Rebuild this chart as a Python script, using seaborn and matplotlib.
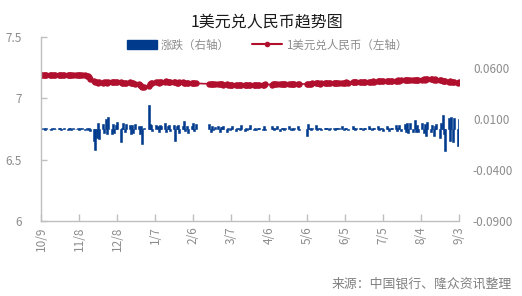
import numpy as np
import pandas as pd
import matplotlib
matplotlib.use("Agg")
import matplotlib.pyplot as plt
import seaborn as sns
from matplotlib.patches import Patch
from matplotlib.lines import Line2D

sns.set_theme(style="white")
plt.rcParams['font.family'] = ['Noto Sans CJK SC', 'DejaVu Sans']

# ---------------- data ----------------
start_date = "2023-10-09"
end_date = "2024-09-03"
holidays = ["2024-01-01", "2024-02-09", "2024-02-12", "2024-02-13", "2024-02-14",
            "2024-02-15", "2024-02-16", "2024-04-04", "2024-04-05", "2024-05-01",
            "2024-05-02", "2024-05-03", "2024-06-10"]

tick_labels = ["10/9", "11/8", "12/8", "1/7", "2/6", "3/7", "4/6", "5/6", "6/5", "7/5", "8/4", "9/3"]

rate_oct = [7.190, 7.191, 7.190, 7.189, 7.190, 7.191, 7.192, 7.191, 7.190, 7.191,
            7.192, 7.191, 7.190, 7.191, 7.190, 7.191, 7.192]
rate_nov = [7.192, 7.191, 7.190, 7.189, 7.190, 7.191, 7.190, 7.189, 7.188, 7.186,
            7.180, 7.172, 7.160, 7.145, 7.135, 7.130, 7.128, 7.132, 7.128, 7.135,
            7.130, 7.126]
rate_dec = [7.130, 7.134, 7.130, 7.132, 7.137, 7.133, 7.130, 7.128, 7.124, 7.122,
            7.128, 7.130, 7.126, 7.124, 7.122, 7.118, 7.115, 7.110, 7.102, 7.094,
            7.092]
rate_jan = [7.100, 7.115, 7.125, 7.128, 7.130, 7.132, 7.128, 7.134, 7.136, 7.134,
            7.138, 7.136, 7.132, 7.130, 7.134, 7.130, 7.128, 7.126, 7.130, 7.132,
            7.128, 7.126]
rate_feb = [7.124, 7.126, 7.125, 7.122, 7.124, 7.122, 7.118, 7.116, 7.114, 7.116,
            7.115, 7.113, 7.115, 7.116, 7.114]
rate_mar = [7.112, 7.114, 7.112, 7.110, 7.112, 7.110, 7.108, 7.110, 7.112, 7.110,
            7.108, 7.110, 7.108, 7.110, 7.106, 7.108, 7.110, 7.112, 7.110, 7.112,
            7.110]
rate_apr = [7.112, 7.110, 7.114, 7.112, 7.114, 7.115, 7.113, 7.114, 7.116, 7.114,
            7.115, 7.117, 7.116, 7.115, 7.117, 7.118, 7.116, 7.118, 7.117, 7.118]
rate_may = [7.116, 7.120, 7.118, 7.120, 7.122, 7.121, 7.123, 7.122, 7.120, 7.122,
            7.124, 7.123, 7.125, 7.124, 7.126, 7.125, 7.127, 7.126, 7.128, 7.127]
rate_jun = [7.128, 7.127, 7.129, 7.130, 7.129, 7.131, 7.130, 7.132, 7.131, 7.133,
            7.134, 7.133, 7.135, 7.134, 7.136, 7.135, 7.137, 7.138, 7.137]
rate_jul = [7.139, 7.140, 7.139, 7.141, 7.142, 7.141, 7.143, 7.142, 7.144, 7.143,
            7.145, 7.144, 7.146, 7.145, 7.147, 7.148, 7.146, 7.149, 7.148, 7.150,
            7.149, 7.151, 7.150]
rate_aug = [7.152, 7.150, 7.153, 7.155, 7.152, 7.156, 7.154, 7.157, 7.155, 7.153,
            7.156, 7.152, 7.148, 7.150, 7.145, 7.140, 7.143, 7.136, 7.140, 7.133,
            7.137, 7.130]
rate_sep = [7.128, 7.131]

chg_oct = [0.0008, -0.0004, 0.0006, -0.0008, 0.0005, 0.0004, -0.0006, 0.0007, 0.0005, -0.0004,
           0.0006, 0.0008, -0.0005, 0.0004, 0.0006, -0.0007, 0.0005]
chg_nov = [0.0005, -0.0006, 0.0008, 0.0004, 0.0006, -0.0005, 0.0007, 0.0005, -0.0006, 0.0008,
           -0.0010, 0.0006, -0.0018, -0.0117, -0.0205, -0.0085, 0.0062, -0.0095, 0.0045, -0.0036,
           0.0095, -0.0052]
chg_dec = [0.0120, -0.0052, 0.0046, -0.0036, 0.0036, 0.0070, -0.0127, 0.0013, 0.0055, -0.0030,
           0.0048, 0.0040, -0.0052, 0.0036, -0.0036, 0.0050, 0.0030, -0.0045, 0.0028, -0.0150,
           0.0013]
chg_jan = [0.0231, 0.0046, 0.0036, -0.0020, 0.0036, 0.0030, -0.0025, 0.0036, 0.0030, 0.0055,
           -0.0030, 0.0030, 0.0036, -0.0020, 0.0040, -0.0117, 0.0030, 0.0036, -0.0036, 0.0030,
           0.0078, -0.0020]
chg_feb = [0.0030, -0.0036, 0.0030, 0.0055, -0.0020, 0.0046, 0.0045, -0.0030, 0.0030, -0.0010,
           0.0020, 0.0025, -0.0030, 0.0020, 0.0015]
chg_mar = [0.0030, -0.0025, 0.0010, -0.0012, 0.0008, 0.0030, -0.0015, 0.0010, 0.0008, -0.0010,
           0.0035, -0.0020, 0.0012, -0.0008, 0.0010, 0.0040, -0.0012, 0.0010, -0.0008, 0.0012,
           0.0009]
chg_apr = [-0.0010, 0.0030, -0.0012, 0.0025, 0.0010, -0.0010, 0.0012, 0.0030, -0.0020, 0.0010,
           0.0008, -0.0010, 0.0012, 0.0030, -0.0010, 0.0008, -0.0012, 0.0010, 0.0030, -0.0008]
chg_may = [-0.0070, 0.0045, 0.0010, -0.0012, 0.0010, 0.0035, -0.0010, 0.0008, 0.0010, -0.0012,
           0.0010, 0.0008, 0.0010, -0.0010, 0.0012, 0.0010, -0.0008, 0.0010, 0.0009, 0.0010]
chg_jun = [0.0030, -0.0010, 0.0010, 0.0008, -0.0012, 0.0030, 0.0010, -0.0008, 0.0010, 0.0012,
           0.0010, -0.0010, 0.0009, 0.0012, 0.0030, 0.0010, -0.0012, 0.0010, 0.0009]
chg_jul = [0.0030, -0.0012, 0.0010, 0.0012, -0.0015, 0.0030, 0.0010, -0.0020, 0.0012, 0.0010,
           0.0035, -0.0015, 0.0012, 0.0040, -0.0020, 0.0045, -0.0030, 0.0055, -0.0036, 0.0060,
           -0.0025, 0.0085, -0.0030]
chg_aug = [0.0040, -0.0030, 0.0060, -0.0040, 0.0050, -0.0070, 0.0070, -0.0030, 0.0040, -0.0070,
           0.0030, 0.0050, -0.0090, 0.0060, 0.0134, -0.0050, -0.0215, 0.0110, -0.0120, 0.0120,
           -0.0130, 0.0104]
chg_sep = [-0.0165, 0.0100]

# ---------------- assemble ----------------
rate = (rate_oct + rate_nov + rate_dec + rate_jan + rate_feb + rate_mar + rate_apr +
        rate_may + rate_jun + rate_jul + rate_aug + rate_sep)
chg = (chg_oct + chg_nov + chg_dec + chg_jan + chg_feb + chg_mar + chg_apr +
       chg_may + chg_jun + chg_jul + chg_aug + chg_sep)
dates = pd.bdate_range(start_date, end_date, freq="C", holidays=holidays)
t0 = pd.Timestamp(start_date)
days = np.array([(d - t0).days for d in dates])
n = min(len(days), len(rate), len(chg))
df = pd.DataFrame({"day": days[:n], "rate": rate[:n], "chg": chg[:n]})

tick_pos = [(pd.Timestamp(f"{2023 if int(l.split('/')[0]) >= 10 else 2024}-{l.split('/')[0]}-{l.split('/')[1]}") - t0).days
            for l in tick_labels]

# ---------------- figure ----------------
fig = plt.figure(figsize=(5.22, 2.96), dpi=100)
ax = fig.add_axes([41 / 522, 75 / 296, 418 / 522, 184 / 296])
ax2 = ax.twinx()

blue = "#003A8C"
red = "#B0102E"
grey_txt = "#8C8C8C"
axis_col = "#BFBFBF"

sns.barplot(data=df, x="day", y="chg", ax=ax2, native_scale=True, width=1.6,
            color=blue, saturation=1, linewidth=0.4, edgecolor=blue)
sns.lineplot(data=df, x="day", y="rate", ax=ax, color=red, linewidth=1.2,
             marker="o", markersize=4.6, markeredgewidth=0, markerfacecolor=red)

ax.set_zorder(ax2.get_zorder() + 1)
ax.patch.set_visible(False)

ax.set_xlim(0, 330)
ax.set_ylim(6, 7.5)
ax.set_yticks([6, 6.5, 7, 7.5])
ax.set_yticklabels(["6", "6.5", "7", "7.5"])
ax2.set_ylim(-0.09, 0.09)
ax2.set_yticks([-0.09, -0.04, 0.01, 0.06])
ax2.set_yticklabels(["-0.0900", "-0.0400", "0.0100", "0.0600"])
ax.set_xticks(tick_pos)
ax.set_xticklabels(tick_labels, rotation=90)
ax2.set_xlim(0, 330)

for a in (ax, ax2):
    a.set_xlabel("")
    a.set_ylabel("")
    a.grid(False)
    for s in a.spines.values():
        s.set_visible(False)

ax.spines["left"].set_visible(True)
ax.spines["bottom"].set_visible(True)
ax.spines["left"].set_color(axis_col)
ax.spines["bottom"].set_color(axis_col)
ax.spines["left"].set_linewidth(1)
ax.spines["bottom"].set_linewidth(1)

ax.tick_params(axis="y", direction="in", length=4, width=1, color=axis_col,
               labelcolor=grey_txt, labelsize=8.5, pad=14, left=True)
ax.tick_params(axis="x", direction="in", length=5, width=1, color=axis_col,
               labelcolor=grey_txt, labelsize=8.5, pad=4, bottom=True)
ax2.tick_params(axis="y", length=0, labelcolor=grey_txt, labelsize=8.5, pad=10)

fig.text(267 / 522, 1 - 22 / 296, "1美元兑人民币趋势图", ha="center", va="center",
         fontsize=11.5, color="#1a1a1a")

handles = [Patch(facecolor=blue, edgecolor=blue),
           Line2D([0], [0], color=red, lw=1.5, marker="o", markersize=4, markeredgewidth=0)]
leg = fig.legend(handles, ["涨跌（右轴）", "1美元兑人民币（左轴）"], loc="center",
                 bbox_to_anchor=(267 / 522, 1 - 45 / 296), ncol=2, frameon=False,
                 fontsize=8.3, handlelength=2.6, handleheight=0.85, columnspacing=2.0,
                 handletextpad=0.3, labelcolor=grey_txt)

fig.text(512 / 522, 1 - 284 / 296, "来源：中国银行、隆众资讯整理", ha="right", va="center",
         fontsize=9.3, color="#808080")

fig.savefig("out.png", dpi=100)
